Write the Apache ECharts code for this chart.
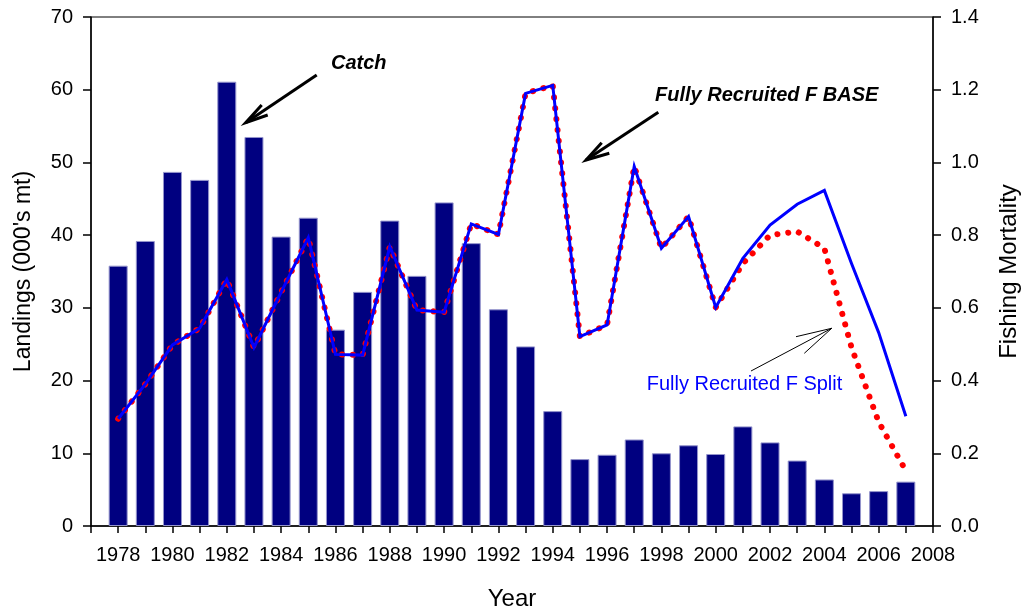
<!DOCTYPE html>
<html><head><meta charset="utf-8">
<script src="https://cdn.jsdelivr.net/npm/echarts@6/dist/echarts.min.js"></script>
<style>html,body{margin:0;padding:0;background:#fff}#c{width:1026px;height:611px}</style>
</head><body><div id="c"></div>
<script>
// ---- data ----
const years = [1978,1979,1980,1981,1982,1983,1984,1985,1986,1987,1988,1989,1990,1991,1992,1993,1994,1995,1996,1997,1998,1999,2000,2001,2002,2003,2004,2005,2006,2007];
const catchLandings = [35.8,39.2,48.7,47.6,61.1,53.5,39.8,42.4,27.0,32.2,42.0,34.4,44.5,38.9,29.8,24.7,15.8,9.2,9.8,11.9,10.0,11.1,9.9,13.7,11.5,9.0,6.4,4.5,4.8,6.1];
const fSplit = [0.295,0.390,0.498,0.544,0.678,0.491,0.643,0.793,0.472,0.470,0.768,0.594,0.588,0.831,0.802,1.190,1.212,0.521,0.553,0.989,0.764,0.851,0.601,0.736,0.828,0.885,0.923,0.722,0.532,0.302];
const fBase  = [0.295,0.390,0.498,0.544,0.678,0.491,0.643,0.793,0.472,0.470,0.768,0.594,0.588,0.831,0.802,1.190,1.212,0.521,0.553,0.989,0.764,0.851,0.601,0.722,0.800,0.810,0.764,0.491,0.286,0.152];
const leftTicks = {min:0, max:70, interval:10};
const rightTicks = {min:0, max:1.4, interval:0.2};
const xTicks = {min:1977, max:2008, interval:1};

const FONT = '"Liberation Sans", Arial, sans-serif';
const chart = echarts.init(document.getElementById('c'), null, {renderer:'canvas'});
const axisCommon = {
  axisLine:{show:true, lineStyle:{color:'#000', width:1.5}},
  axisTick:{show:true, inside:false, length:8, lineStyle:{color:'#000', width:1.5}},
  splitLine:{show:false},
  nameLocation:'middle',
  nameTextStyle:{color:'#000', fontSize:24, fontFamily:FONT}
};
const option = {
  animation:false,
  backgroundColor:'#fff',
  grid:{left:91, right:93, top:17, bottom:85, show:true, borderColor:'#000', borderWidth:1,
        backgroundColor:'transparent', containLabel:false, outerBoundsMode:'none'},
  xAxis:Object.assign({}, axisCommon, {
    type:'value', min:xTicks.min, max:xTicks.max, interval:xTicks.interval,
    axisTick:{show:true, inside:false, length:7, lineStyle:{color:'#000', width:1.5}},
    axisLabel:{color:'#000', fontSize:20, fontFamily:FONT, margin:19, showMinLabel:true, showMaxLabel:true,
      formatter:v => (v % 2 === 0 ? String(v) : '')},
    name:'Year', nameGap:61
  }),
  yAxis:[
    Object.assign({}, axisCommon, {
      type:'value', position:'left', min:leftTicks.min, max:leftTicks.max, interval:leftTicks.interval,
      axisLabel:{color:'#000', fontSize:20, fontFamily:FONT, margin:18},
      name:"Landings (000's mt)", nameGap:56, nameRotate:90,
      nameTextStyle:{color:'#000', fontSize:23, fontFamily:FONT}
    }),
    Object.assign({}, axisCommon, {
      type:'value', position:'right', min:rightTicks.min, max:rightTicks.max, interval:rightTicks.interval,
      axisLabel:{color:'#000', fontSize:20, fontFamily:FONT, margin:18, formatter:v => v.toFixed(1)},
      name:'Fishing Mortality', nameGap:64, nameRotate:90
    })
  ],
  series:[
    {type:'bar', yAxisIndex:0, data:years.map((y,i)=>[y,catchLandings[i]]), barWidth:19,
     itemStyle:{color:'#000080', borderColor:'#9494cc', borderWidth:1}},
    {type:'line', yAxisIndex:1, data:years.map((y,i)=>[y,fBase[i]]), symbol:'none',
     lineStyle:{color:'#ff0000', width:6, type:[0.1,10.8], cap:'round', join:'round'}},
    {type:'line', yAxisIndex:1, data:years.map((y,i)=>[y,fSplit[i]]), symbol:'none',
     lineStyle:{color:'#0000ff', width:3, join:'miter'}}
  ],
  graphic:[
    {type:'text', x:331, y:63, style:{text:'Catch', fill:'#000', font:'italic bold 20px "Liberation Sans", Arial', align:'left', verticalAlign:'middle'}},
    {type:'line', shape:{x1:316.7,y1:75,x2:245.7,y2:122.7}, style:{stroke:'#000', lineWidth:3}},
    {type:'polyline', shape:{points:[[261.7,105],[245.7,122.7],[267.7,115]]}, style:{stroke:'#000', lineWidth:3, fill:null}},
    {type:'text', x:655, y:95, style:{text:'Fully Recruited F BASE', fill:'#000', font:'italic bold 20px "Liberation Sans", Arial', align:'left', verticalAlign:'middle'}},
    {type:'line', shape:{x1:658.3,y1:112.3,x2:586,y2:160}, style:{stroke:'#000', lineWidth:3}},
    {type:'polyline', shape:{points:[[601.7,142.7],[586,160],[609.3,153.3]]}, style:{stroke:'#000', lineWidth:3, fill:null}},
    {type:'text', x:646.7, y:384, style:{text:'Fully Recruited F Split', fill:'#0000ff', font:'20px "Liberation Sans", Arial', align:'left', verticalAlign:'middle'}},
    {type:'line', shape:{x1:751,y1:371,x2:831.7,y2:328.3}, style:{stroke:'#000', lineWidth:1}},
    {type:'polyline', shape:{points:[[796,336.7],[831.7,328.3],[804.3,353.3]]}, style:{stroke:'#000', lineWidth:1, fill:null}}
  ]
};
chart.setOption(option);
</script></body></html>
